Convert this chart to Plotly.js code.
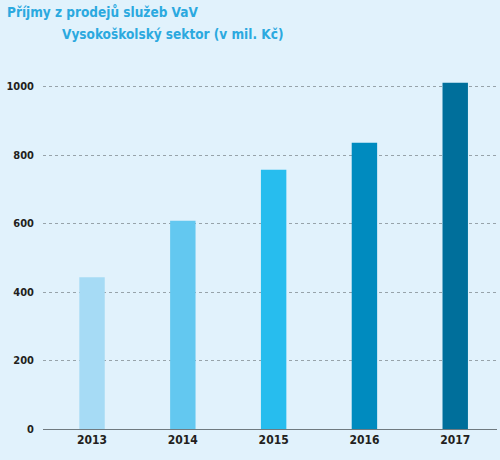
<!DOCTYPE html>
<html>
<head>
<meta charset="utf-8">
<script src="https://cdn.plot.ly/plotly-3.0.1.min.js"></script>
<style>
html,body{margin:0;padding:0;background:#e1f2fc;}
#chart{width:500px;height:460px;}
</style>
</head>
<body>
<div id="chart"></div>
<script>
const years = ["2013", "2014", "2015", "2016", "2017"];
const values = [443, 608, 757, 836, 1011];
const barColors = ["#a6dbf5", "#63c8f0", "#27bdee", "#008bbf", "#006f9b"];
const yTicks = [0, 200, 400, 600, 800, 1000];
const titleLine1 = "Příjmy z prodejů služeb VaV";
const titleLine2 = "Vysokoškolský sektor (v mil. Kč)";

const fontFam = "'DejaVu Sans Condensed', 'Liberation Sans Narrow', sans-serif";

const trace = {
  type: "bar",
  x: years,
  y: values,
  marker: {color: barColors, line: {width: 0}},
  hoverinfo: "x+y"
};

const layout = {
  width: 500,
  height: 460,
  paper_bgcolor: "#e1f2fc",
  plot_bgcolor: "#e1f2fc",
  margin: {l: 43, r: 3, t: 80, b: 31},
  bargap: 0.72,
  showlegend: false,
  xaxis: {
    type: "category",
    range: [-0.54, 4.46],
    showgrid: false,
    showline: false,
    zeroline: false,
    ticks: "",
    ticklabelstandoff: 2,
    tickfont: {family: fontFam, size: 12, color: "#231f20", weight: "bold"},
    fixedrange: true
  },
  yaxis: {
    range: [0, 1019],
    tickvals: yTicks,
    ticktext: yTicks.map(String),
    showgrid: true,
    gridcolor: "#97a3aa",
    griddash: "dot",
    gridwidth: 1,
    zeroline: true,
    zerolinecolor: "#6f7a80",
    zerolinewidth: 1,
    showline: false,
    ticks: "",
    ticklabelstandoff: 8,
    tickfont: {family: fontFam, size: 11, color: "#231f20", weight: "bold"},
    fixedrange: true
  },
  annotations: [
    {text: titleLine1, xref: "paper", yref: "paper", x: -0.0837, y: 1.195, xanchor: "left", yanchor: "middle",
     showarrow: false, font: {family: fontFam, size: 13.5, color: "#2ba9df", weight: "bold"}},
    {text: titleLine2, xref: "paper", yref: "paper", x: 0.037, y: 1.132, xanchor: "left", yanchor: "middle",
     showarrow: false, font: {family: fontFam, size: 13.5, color: "#2ba9df", weight: "bold"}}
  ]
};

Plotly.newPlot("chart", [trace], layout, {displayModeBar: false, staticPlot: true});
</script>
</body>
</html>
